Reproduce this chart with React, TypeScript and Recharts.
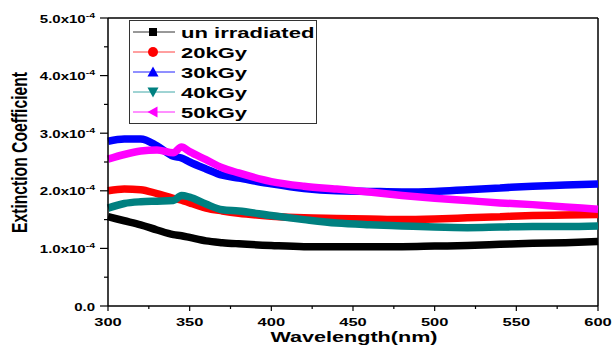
import React from 'react';
import { LineChart, Line, XAxis, YAxis, ReferenceLine, Legend } from 'recharts';

// wavelength in nm, extinction coefficient in units of 1e-4
const wavelengths = [300, 310, 320, 330, 340, 345, 350, 360, 370, 380, 400, 420, 440, 460, 480, 500, 520, 540, 560, 580, 600];
const unIrradiated = [1.55, 1.48, 1.41, 1.32, 1.24, 1.22, 1.19, 1.13, 1.1, 1.08, 1.05, 1.03, 1.03, 1.03, 1.03, 1.04, 1.05, 1.07, 1.09, 1.1, 1.12];
const kGy20 = [2.0, 2.03, 2.02, 1.95, 1.87, 1.84, 1.79, 1.7, 1.65, 1.61, 1.56, 1.53, 1.52, 1.51, 1.5, 1.51, 1.53, 1.55, 1.57, 1.58, 1.59];
const kGy30 = [2.86, 2.9, 2.9, 2.78, 2.6, 2.57, 2.5, 2.38, 2.27, 2.22, 2.12, 2.04, 2.0, 1.99, 1.98, 1.99, 2.02, 2.05, 2.08, 2.1, 2.12];
const kGy40 = [1.7, 1.78, 1.81, 1.82, 1.83, 1.92, 1.89, 1.77, 1.67, 1.65, 1.57, 1.5, 1.44, 1.41, 1.39, 1.37, 1.36, 1.37, 1.38, 1.38, 1.39];
const kGy50 = [2.55, 2.63, 2.69, 2.71, 2.66, 2.76, 2.68, 2.54, 2.4, 2.31, 2.16, 2.08, 2.03, 1.98, 1.92, 1.87, 1.83, 1.79, 1.76, 1.72, 1.68];

const xTicks = [300, 325, 350, 375, 400, 425, 450, 475, 500, 525, 550, 575, 600];
const yTicks = [0, 0.5, 1, 1.5, 2, 2.5, 3, 3.5, 4, 4.5, 5];

const series = [
    { key: 'un', name: 'un irradiated', color: '#000000', legendColor: '#333333', marker: 'square', values: unIrradiated },
    { key: 'k20', name: '20kGy', color: '#ff0000', legendColor: '#ff4040', marker: 'circle', values: kGy20 },
    { key: 'k30', name: '30kGy', color: '#0000ff', legendColor: '#2020ff', marker: 'up', values: kGy30 },
    { key: 'k40', name: '40kGy', color: '#008080', legendColor: '#40a8a8', marker: 'down', values: kGy40 },
    { key: 'k50', name: '50kGy', color: '#ff00ff', legendColor: '#ff20ff', marker: 'left', values: kGy50 },
];

const data = wavelengths.map((w, i) => {
    const row: Record<string, number> = { w };
    series.forEach(s => {
        row[s.key] = s.values[i];
    });
    return row;
});

const FONT = '"Liberation Sans", Arial, sans-serif';
const STRETCH = 1.5;

const XTick = (props: any) => {
    const { x, y, payload } = props;
    const major = payload.value % 50 === 0;
    return (
        <g>
            <line x1={x} x2={x} y1={y} y2={y + (major ? 5 : 3)} stroke='#000' strokeWidth={1.2} />
            {major && (
                <text
                    transform={`translate(${x},${y + 20}) scale(${STRETCH},1)`}
                    textAnchor='middle'
                    fontFamily={FONT}
                    fontWeight='bold'
                    fontSize={11}
                    fill='#000'
                >
                    {payload.value}
                </text>
            )}
        </g>
    );
};

const YTick = (props: any) => {
    const { x, y, payload } = props;
    const v = payload.value as number;
    const major = Math.abs(v - Math.round(v)) < 1e-6;
    return (
        <g>
            <line x1={x - (major ? 8 : 4)} x2={x} y1={y} y2={y} stroke='#000' strokeWidth={1.2} />
            {major && (
                <text
                    transform={`translate(${x - 13},${y + 4.5}) scale(${STRETCH},1)`}
                    textAnchor='end'
                    fontFamily={FONT}
                    fontWeight='bold'
                    fontSize={10}
                    fill='#000'
                >
                    {v === 0 ? (
                        '0.0'
                    ) : (
                        <>
                            <tspan>{`${v.toFixed(1)}x10`}</tspan>
                            <tspan fontSize={7} dy={-5}>-4</tspan>
                        </>
                    )}
                </text>
            )}
        </g>
    );
};

const Marker = ({ shape, cx, cy, color }: { shape: string; cx: number; cy: number; color: string }) => {
    switch (shape) {
        case 'square':
            return <rect x={cx - 4} y={cy - 4} width={8} height={8} fill={color} />;
        case 'circle':
            return <circle cx={cx} cy={cy} r={5} fill={color} />;
        case 'up':
            return <polygon points={`${cx - 5.5},${cy + 4.5} ${cx + 5.5},${cy + 4.5} ${cx},${cy - 5.5}`} fill={color} />;
        case 'down':
            return <polygon points={`${cx - 5.5},${cy - 4.5} ${cx + 5.5},${cy - 4.5} ${cx},${cy + 5.5}`} fill={color} />;
        default:
            return <polygon points={`${cx + 4.5},${cy - 5.5} ${cx + 4.5},${cy + 5.5} ${cx - 5.5},${cy}`} fill={color} />;
    }
};

const LegendBox = () => (
    <svg width={188} height={104} style={{ display: 'block' }}>
        <rect x={0.5} y={0.5} width={187} height={103} fill='#fff' stroke='#333' strokeWidth={1} />
        {series.map((s, i) => {
            const cy = 12 + i * 20;
            return (
                <g key={s.key}>
                    <line x1={4} x2={46} y1={cy} y2={cy} stroke={s.legendColor} strokeWidth={1} />
                    <Marker shape={s.marker} cx={24} cy={cy} color={s.color} />
                    <text
                        transform={`translate(52,${cy + 5.5}) scale(1.52,1)`}
                        fontFamily={FONT}
                        fontWeight='bold'
                        fontSize={14.5}
                        fill='#000'
                    >
                        {s.name}
                    </text>
                </g>
            );
        })}
    </svg>
);

export default function App() {
    return (
        <div style={{ position: 'absolute', left: 0, top: 0, background: '#fff' }}>
            <LineChart width={613} height={356} data={data} margin={{ top: 18, right: 15, bottom: 0, left: 0 }}>
                <XAxis
                    dataKey='w'
                    type='number'
                    domain={[300, 600]}
                    ticks={xTicks}
                    interval={0}
                    height={50}
                    tickSize={0}
                    tickMargin={0}
                    tickLine={false}
                    tick={<XTick />}
                    axisLine={{ stroke: '#000', strokeWidth: 1.5 }}
                    label={{
                        content: () => (
                            <text
                                transform={`translate(354,342) scale(1.44,1)`}
                                textAnchor='middle'
                                fontFamily={FONT}
                                fontWeight='bold'
                                fontSize={15}
                                fill='#000'
                            >
                                Wavelength(nm)
                            </text>
                        ),
                    }}
                />
                <YAxis
                    type='number'
                    domain={[0, 5]}
                    ticks={yTicks}
                    interval={0}
                    width={108}
                    tickSize={0}
                    tickMargin={0}
                    tickLine={false}
                    tick={<YTick />}
                    axisLine={{ stroke: '#000', strokeWidth: 1.5 }}
                    label={{
                        content: () => (
                            <text
                                transform='translate(27,152.5) rotate(-90) scale(1,1.3)'
                                textAnchor='middle'
                                fontFamily={FONT}
                                fontWeight='bold'
                                fontSize={16.5}
                                textLength={161}
                                lengthAdjust='spacingAndGlyphs'
                                fill='#000'
                            >
                                Extinction Coefficient
                            </text>
                        ),
                    }}
                />
                <ReferenceLine y={5} stroke='#000' strokeWidth={1.5} />
                <ReferenceLine x={600} stroke='#000' strokeWidth={1.5} />
                {series.map(s => (
                    <Line
                        key={s.key}
                        dataKey={s.key}
                        name={s.name}
                        type='monotone'
                        stroke={s.color}
                        strokeWidth={7.5}
                        dot={false}
                        isAnimationActive={false}
                    />
                ))}
                <Legend
                    layout='horizontal'
                    verticalAlign='middle'
                    align='center'
                    wrapperStyle={{ left: 129, top: 20, width: 188, height: 104 }}
                    content={() => <LegendBox />}
                />
            </LineChart>
        </div>
    );
}
